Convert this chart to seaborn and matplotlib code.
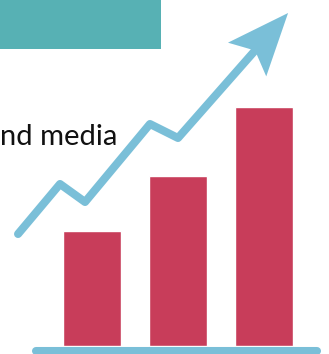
import numpy as np
import matplotlib
matplotlib.use("Agg")
import matplotlib.pyplot as plt
from matplotlib.patches import Polygon, Rectangle
import seaborn as sns

# ---- data ----
categories = ["A", "B", "C"]
bar_values = [115, 170, 239]
trend_x = [-0.86, -0.372, -0.081, 0.674, 1.0, 2.28]
trend_y = [112, 162, 144, 222, 208, 333]
label_text = "nd media"

BAR_COLOR = "#c83d5a"
LINE_COLOR = "#7abfd8"
BANNER_COLOR = "#57b1b4"

sns.set_theme(style="white")
plt.rcParams["font.family"] = ["Lato", "DejaVu Sans"]

W, H = 329, 354
fig = plt.figure(figsize=(W / 100, H / 100), dpi=100)
ax = fig.add_axes([0, 0, 1, 1])

sns.barplot(x=categories, y=bar_values, color=BAR_COLOR, saturation=1,
            width=0.674, ax=ax, zorder=2)

ax.set_xlim(-92 / 86, (W - 92) / 86)
ax.set_ylim(-8, H - 8)
ax.axis("off")

LW = 5.8

# baseline
ax.axhline(-4.5, xmin=36 / W, xmax=317 / W, color=LINE_COLOR, lw=LW,
           solid_capstyle="round", zorder=3)

# trend line with arrowhead computed in display space
fig.canvas.draw()
pts = ax.transData.transform(np.column_stack([trend_x, trend_y]))
tip, prev = pts[-1], pts[-2]
u = (tip - prev) / np.linalg.norm(tip - prev)
n = np.array([-u[1], u[0]])
L, HW, N = 62, 25.5, 50
notch = tip - N * u
head = np.array([tip, tip - L * u + HW * n, notch, tip - L * u - HW * n])
line_pts = np.vstack([pts[:-1], notch + 4 * u])
line_data = ax.transData.inverted().transform(line_pts)
sns.lineplot(x=line_data[:, 0], y=line_data[:, 1], sort=False, ax=ax,
             color=LINE_COLOR, lw=LW, zorder=4,
             solid_capstyle="round", solid_joinstyle="round")
ax.add_patch(Polygon(ax.transData.inverted().transform(head), closed=True,
                     facecolor=LINE_COLOR, edgecolor="none", zorder=5))

# banner and text
fig.patches.append(Rectangle((0, 1 - 49 / H), 161 / W, 49 / H,
                             transform=fig.transFigure, facecolor=BANNER_COLOR,
                             edgecolor="none", zorder=1))
fig.text(0, 1 - 145 / H, label_text, fontsize=21, color="#111111",
         va="baseline", ha="left")

fig.savefig("out.png", dpi=100)
